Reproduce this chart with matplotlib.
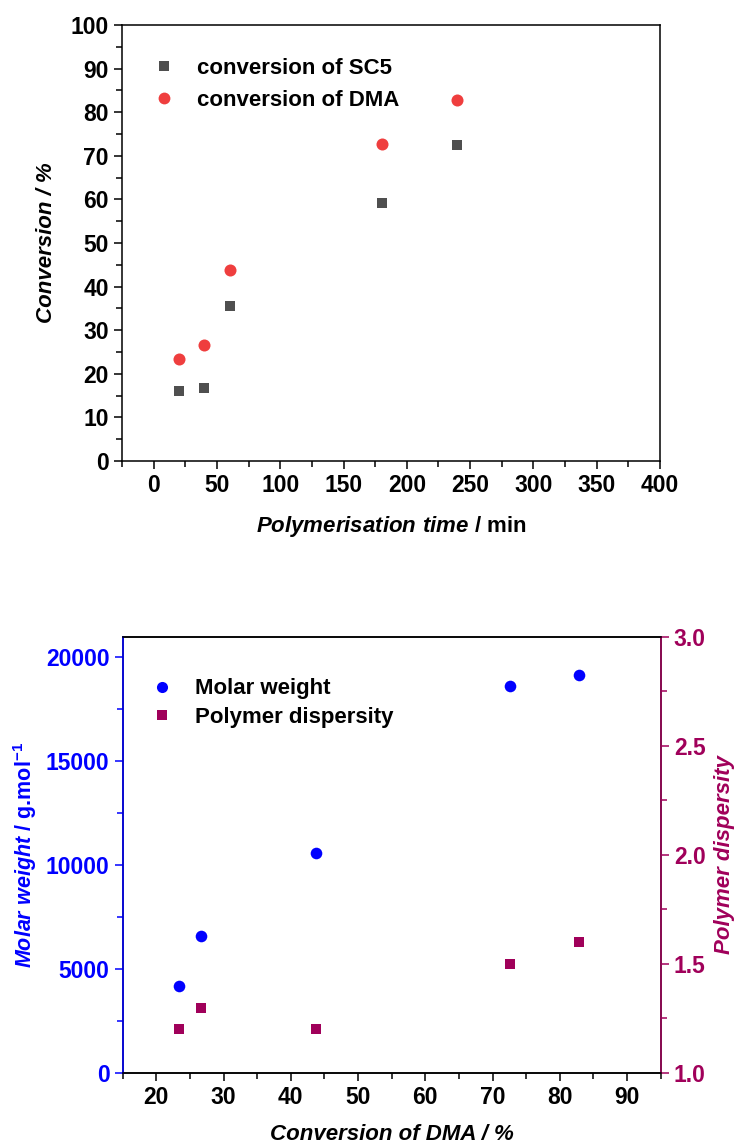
import matplotlib.pyplot as plt
from matplotlib.ticker import MultipleLocator
from matplotlib.lines import Line2D

plt.rcParams['font.family'] = ['Liberation Sans', 'DejaVu Sans']
plt.rcParams['font.weight'] = 'bold'
plt.rcParams['axes.labelweight'] = 'bold'
plt.rcParams['mathtext.fontset'] = 'custom'
plt.rcParams['mathtext.rm'] = 'Liberation Sans:bold'
plt.rcParams['mathtext.bf'] = 'Liberation Sans:bold'
plt.rcParams['mathtext.it'] = 'Liberation Sans:bold:italic'
plt.rcParams['mathtext.bfit'] = 'Liberation Sans:bold:italic'

# top panel: conversion vs polymerisation time
time_min = [20, 40, 60, 180, 240]
conv_sc5 = [16.0, 16.7, 35.5, 59.1, 72.5]
conv_dma = [23.3, 26.7, 43.7, 72.6, 82.9]

# bottom panel: molar weight / dispersity vs DMA conversion
mw = [4200, 6600, 10600, 18650, 19150]
dispersity = [1.2, 1.3, 1.2, 1.5, 1.6]

GREY = '#4f4f4f'
RED = '#ef3e3e'
BLUE = '#0000ff'
PURPLE = '#a0005a'

fig = plt.figure(figsize=(7.36, 11.46), dpi=100)

# ---------------- top ----------------
ax = fig.add_axes([0.1658, 0.5977, 0.7309, 0.3805])
ax.scatter(time_min, conv_sc5, marker='s', s=55, color=GREY, linewidths=0, zorder=3)
ax.scatter(time_min, conv_dma, marker='o', s=75, color=RED, linewidths=0, zorder=3)
ax.set_xlim(-25, 400)
ax.set_ylim(0, 100)
ax.xaxis.set_major_locator(MultipleLocator(50))
ax.xaxis.set_minor_locator(MultipleLocator(25))
ax.yaxis.set_major_locator(MultipleLocator(10))
ax.yaxis.set_minor_locator(MultipleLocator(5))
ax.tick_params(which='both', direction='out', width=1.1, labelsize=16.5, top=False, right=False)
ax.tick_params(which='major', length=6)
ax.tick_params(which='minor', length=4)
for sp in ax.spines.values():
    sp.set_linewidth(1.1)
ax.set_xlabel(r'$\mathbfit{Polymerisation\ time}$ / min', fontsize=16, labelpad=12)
ax.set_ylabel('Conversion / %', fontsize=16, style='italic', labelpad=10)

h1 = [Line2D([], [], ls='', marker='s', ms=7.5, color=GREY, mew=0),
      Line2D([], [], ls='', marker='o', ms=8.5, color=RED, mew=0)]
ax.legend(h1, ['conversion of SC5', 'conversion of DMA'], loc='upper left',
          bbox_to_anchor=(0.02, 0.945), frameon=False, fontsize=16,
          handletextpad=0.5, labelspacing=0.5, borderaxespad=0)

# ---------------- bottom ----------------
bx = fig.add_axes([0.1667, 0.0637, 0.7310, 0.3807])
bx2 = bx.twinx()
bx.scatter(conv_dma, mw, marker='o', s=70, color=BLUE, linewidths=0, zorder=3)
bx2.scatter(conv_dma, dispersity, marker='s', s=50, color=PURPLE, linewidths=0, zorder=3)
bx.set_xlim(15, 95)
bx.set_ylim(0, 21000)
bx2.set_ylim(1.0, 3.0)
bx.xaxis.set_major_locator(MultipleLocator(10))
bx.xaxis.set_minor_locator(MultipleLocator(5))
bx.yaxis.set_major_locator(MultipleLocator(5000))
bx.yaxis.set_minor_locator(MultipleLocator(2500))
bx2.yaxis.set_major_locator(MultipleLocator(0.5))
bx2.yaxis.set_minor_locator(MultipleLocator(0.25))
for a in (bx, bx2):
    a.tick_params(which='both', direction='out', width=1.1, labelsize=16.5)
    a.tick_params(which='major', length=6)
    a.tick_params(which='minor', length=4)
    for sp in a.spines.values():
        sp.set_linewidth(1.1)
bx.tick_params(axis='y', which='both', colors=BLUE)
bx2.tick_params(axis='y', which='both', colors=PURPLE)
bx2.yaxis.set_major_formatter(plt.FormatStrFormatter('%.1f'))
bx2.spines['left'].set_color(BLUE)
bx2.spines['right'].set_color(PURPLE)
bx.set_xlabel('Conversion of DMA / %', fontsize=16, style='italic', labelpad=11)
bx.set_ylabel(r'$\mathbfit{Molar\ weight}$ / g.mol$^{-1}$', fontsize=15.5, color=BLUE, labelpad=5)
bx2.set_ylabel('Polymer dispersity', fontsize=16, style='italic', color=PURPLE, labelpad=6)

h2 = [Line2D([], [], ls='', marker='o', ms=8, color=BLUE, mew=0),
      Line2D([], [], ls='', marker='s', ms=7, color=PURPLE, mew=0)]
bx2.legend(h2, ['Molar weight', 'Polymer dispersity'], loc='upper left',
           bbox_to_anchor=(0.015, 0.925), frameon=False, fontsize=16,
           handletextpad=0.5, labelspacing=0.35, borderaxespad=0)

fig.savefig('out.png', dpi=100)
